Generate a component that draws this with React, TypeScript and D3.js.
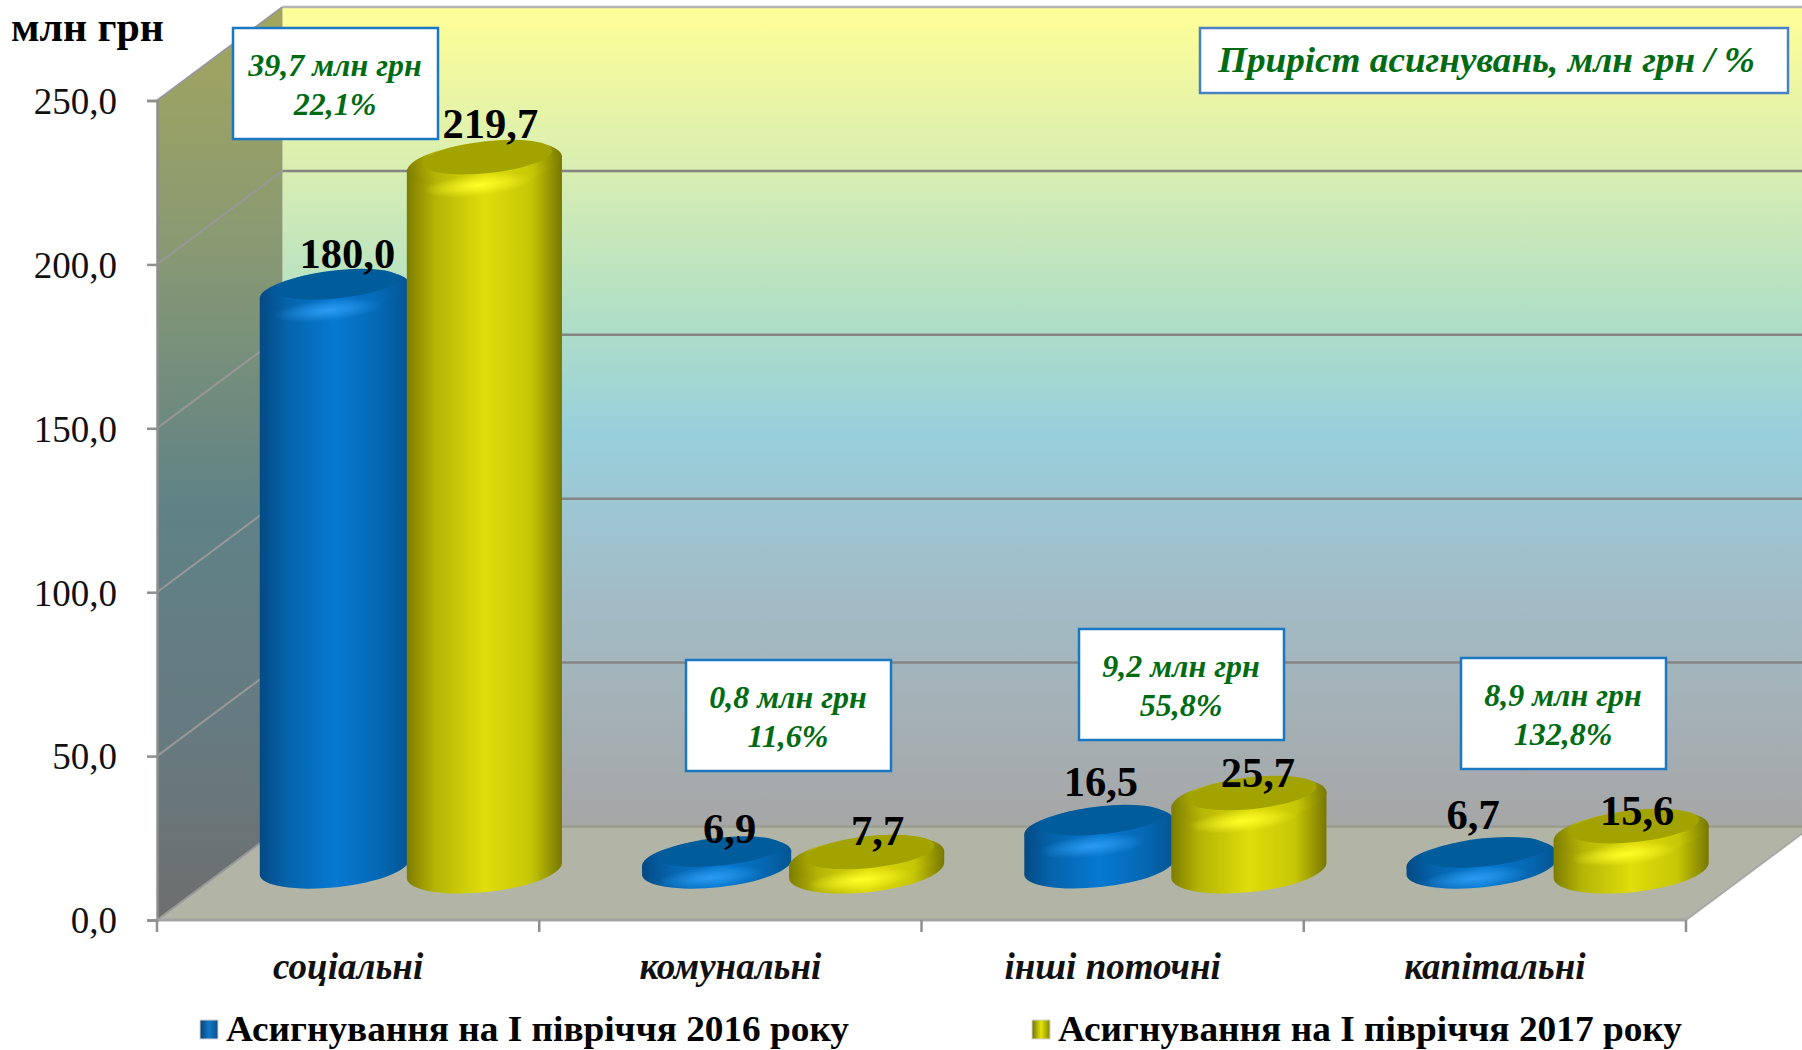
import React, { useEffect, useRef } from 'react';
import * as d3 from 'd3';

const categories = ['соціальні', 'комунальні', 'інші поточні', 'капітальні'];
const values2016 = [180.0, 6.9, 16.5, 6.7];
const values2017 = [219.7, 7.7, 25.7, 15.6];
const seriesNames = ['Асигнування на І півріччя 2016 року', 'Асигнування на І півріччя 2017 року'];
const yTicks = [0, 50, 100, 150, 200, 250];
const growthAbs = ['39,7 млн грн', '0,8 млн грн', '9,2 млн грн', '8,9 млн грн'];
const growthPct = ['22,1%', '11,6%', '55,8%', '132,8%'];

// hand placed, labels in the source are dragged around
const boxPos = [[233, 28], [686, 660], [1079, 629], [1461, 658]];
const nudge2016 = [[13, -2], [13, 6], [2, -10], [-8, -9]];
const nudge2017 = [[6, -3], [11, 9], [9, 10], [6, 15]];

const W = 1802, H = 1050;
const frontL = 157, frontR = 1686, floorY = 920, topY = 100.5;
const depthX = 125.5, depthY = 93.5;
const serif = '"Liberation Serif", "Times New Roman", serif';
const green = '#006b12';
const tilt = -6;

const fmt = (v: number) => d3.format('.1f')(v).replace('.', ',');

export default function App() {
  const svgRef = useRef<SVGSVGElement>(null);

  useEffect(() => {
    const svg = d3.select(svgRef.current);
    svg.selectAll('*').remove();

    const y = d3.scaleLinear().domain([0, 250]).range([floorY, topY]);
    const x = d3.scaleBand().domain(categories).range([frontL, frontR]);
    const inner = d3.scaleBand().domain(['a', 'b']).range([-151.5, 148.5]);

    const defs = svg.append('defs');
    const addGrad = (id: string, stops: [number, string][], vertical = false) => {
      const g = defs.append('linearGradient').attr('id', id)
        .attr('x1', 0).attr('y1', 0).attr('x2', vertical ? 0 : 1).attr('y2', vertical ? 1 : 0);
      stops.forEach(s => g.append('stop').attr('offset', s[0]).attr('stop-color', s[1]));
    };
    addGrad('wall', [[0, '#ffff96'], [0.2, '#d8eeb2'], [0.38, '#b0dfc6'], [0.52, '#98cfdc'], [0.72, '#a2bcc6'], [1, '#a6a6a6']], true);
    addGrad('side', [[0, '#a3a65c'], [0.25, '#8a9a72'], [0.55, '#5f8286'], [0.8, '#667a80'], [1, '#6e6e6e']], true);
    addGrad('blueBody', [[0, '#034a84'], [0.18, '#0563ab'], [0.5, '#0679d2'], [0.8, '#0568b4'], [1, '#045592']]);
    addGrad('yellowBody', [[0, '#7d7d00'], [0.18, '#b4b406'], [0.5, '#e0dd0a'], [0.8, '#c6c606'], [1, '#777700']]);
    addGrad('blueLeg', [[0, '#0a3f70'], [0.5, '#1478c8'], [1, '#0a4f88']]);
    addGrad('yellowLeg', [[0, '#6f6f00'], [0.5, '#e4e40c'], [1, '#858500']]);

    const addGlow = (id: string, c: string) => {
      const g = defs.append('radialGradient').attr('id', id);
      g.append('stop').attr('offset', 0).attr('stop-color', c).attr('stop-opacity', 1);
      g.append('stop').attr('offset', 1).attr('stop-color', c).attr('stop-opacity', 0);
    };
    addGlow('blueGlow', '#2c9cf2');
    addGlow('yellowGlow', '#ffff28');

    svg.append('rect').attr('width', W).attr('height', H).attr('fill', '#fff');

    // walls and floor
    const yBack = (v: number) => y(v) - depthY;
    const backL = frontL + depthX;
    svg.append('rect').attr('x', backL).attr('y', yBack(250))
      .attr('width', W - backL).attr('height', y(0) - y(250)).attr('fill', 'url(#wall)');
    svg.append('polygon').attr('fill', 'url(#side)')
      .attr('points', `${frontL},${y(250)} ${backL},${yBack(250)} ${backL},${yBack(0)} ${frontL},${y(0)}`);
    svg.append('polygon').attr('fill', '#b2b5a6')
      .attr('points', `${frontL},${y(0)} ${backL},${yBack(0)} ${frontR + depthX},${yBack(0)} ${frontR},${y(0)}`);

    // gridlines
    const grid = svg.append('g');
    yTicks.forEach(v => {
      grid.append('line').attr('x1', backL).attr('x2', W).attr('y1', yBack(v)).attr('y2', yBack(v))
        .attr('stroke', v === 0 ? '#9b9c90' : v === 250 ? '#b5b5b5' : '#858585').attr('stroke-width', 2.5);
      grid.append('line').attr('x1', frontL).attr('x2', backL).attr('y1', y(v)).attr('y2', yBack(v))
        .attr('stroke', '#989898').attr('stroke-width', 2);
    });
    grid.append('line').attr('x1', frontR).attr('x2', frontR + depthX).attr('y1', y(0)).attr('y2', yBack(0))
      .attr('stroke', '#a8a8a8').attr('stroke-width', 2);

    // y axis
    const yAxis = d3.axisLeft(y).tickValues(yTicks).tickFormat((d: any) => fmt(d)).tickSize(10).tickPadding(30);
    const yg = svg.append('g').attr('transform', `translate(${frontL},0)`).call(yAxis as any);
    yg.selectAll('path,line').attr('stroke', '#8f8f8f').attr('stroke-width', 2.5);
    yg.selectAll('text').attr('font-family', serif).attr('font-size', 37).attr('fill', '#111')
      .attr('transform', 'translate(0,1)');

    // x axis, ticks sit on band edges
    const xg = svg.append('g');
    xg.append('line').attr('x1', frontL).attr('x2', frontR).attr('y1', y(0)).attr('y2', y(0))
      .attr('stroke', '#a3a3a3').attr('stroke-width', 3);
    [...categories.map(c => x(c) as number), frontR].forEach(t => {
      xg.append('line').attr('x1', t).attr('x2', t).attr('y1', y(0)).attr('y2', y(0) + 12)
        .attr('stroke', '#8f8f8f').attr('stroke-width', 2.5);
    });
    xg.selectAll('text.cat').data(categories).enter().append('text').attr('class', 'cat')
      .attr('x', d => (x(d) as number) + x.bandwidth() / 2).attr('y', 979)
      .attr('text-anchor', 'middle').attr('font-family', serif).attr('font-size', 37)
      .attr('font-weight', 'bold').attr('font-style', 'italic').attr('fill', '#111').text(d => d);

    // cylinders
    const drawBar = (cat: string, v: number, key: 'a' | 'b', color: string, rx: number, ry: number, dark: string, baseDrop: number) => {
      const cx = (x(cat) as number) + x.bandwidth() / 2 + depthX / 2 + (inner(key) as number) + inner.bandwidth() / 2;
      // ellipses are rounder than the true projection, so the body gives back the difference
      const base = y(0) - depthY / 2 + baseDrop - 7;
      const top = base - (y(0) - y(v)) + 14;
      const dx = rx * Math.cos((tilt * Math.PI) / 180);
      const dy = rx * Math.sin((tilt * Math.PI) / 180);
      const g = svg.append('g');
      const path = d3.path();
      path.moveTo(cx - dx, top - dy);
      path.lineTo(cx - dx, base - dy);
      g.append('path')
        .attr('d', `${path.toString()} A${rx} ${ry} ${tilt} 0 0 ${cx + dx} ${base + dy} L${cx + dx} ${top + dy} Z`)
        .attr('fill', `url(#${color}Body)`);
      const ell = (ox: number, oy: number, rrx: number, rry: number, fill: string) =>
        g.append('ellipse').attr('transform', `translate(${cx + ox},${top + oy}) rotate(${tilt})`)
          .attr('rx', rrx).attr('ry', rry).attr('fill', fill);
      ell(0, 0, rx, ry, `url(#${color}Body)`);
      ell(-6, ry - 1, 54, 11, `url(#${color}Glow)`);
      ell(3, -7, rx - 13, ry - 6, dark);
    };
    categories.forEach((c, i) => {
      drawBar(c, values2016[i], 'a', 'blue', 75, 20, '#005c9a', 1);
      drawBar(c, values2017[i], 'b', 'yellow', 78, 22, '#a3a300', 4);
    });

    // data labels
    const barTop = (v: number, drop: number, ry: number) => y(0) - depthY / 2 + drop - (y(0) - y(v)) - ry - 2;
    const addLabels = (vals: number[], key: 'a' | 'b', nudge: number[][], drop: number, ry: number) => {
      svg.append('g').selectAll('text').data(vals).enter().append('text')
        .attr('x', (d, i) => (x(categories[i]) as number) + x.bandwidth() / 2 + depthX / 2 + (inner(key) as number) + inner.bandwidth() / 2 + nudge[i][0])
        .attr('y', (d, i) => barTop(d, drop, ry) + nudge[i][1])
        .attr('text-anchor', 'middle').attr('font-family', serif).attr('font-weight', 'bold')
        .attr('font-size', 42.5).attr('fill', '#000').text(d => fmt(d));
    };
    addLabels(values2016, 'a', nudge2016, 1, 12.5);
    addLabels(values2017, 'b', nudge2017, 4, 14.5);

    // growth boxes
    categories.forEach((c, i) => {
      const g = svg.append('g').attr('transform', `translate(${boxPos[i][0]},${boxPos[i][1]})`);
      g.append('rect').attr('width', 205).attr('height', 111).attr('fill', '#fff')
        .attr('stroke', '#1a78c2').attr('stroke-width', 2.5);
      [growthAbs[i], growthPct[i]].forEach((t, j) => {
        g.append('text').attr('x', 102).attr('y', 48 + j * 39).attr('text-anchor', 'middle')
          .attr('font-family', serif).attr('font-size', 32).attr('font-weight', 'bold')
          .attr('font-style', 'italic').attr('fill', green).text(t);
      });
    });
    svg.append('rect').attr('x', 1200).attr('y', 28).attr('width', 588).attr('height', 65)
      .attr('fill', '#fff').attr('stroke', '#4a80c4').attr('stroke-width', 2.5);
    svg.append('text').attr('x', 1218).attr('y', 72).attr('font-family', serif).attr('font-size', 35)
      .attr('font-weight', 'bold').attr('font-style', 'italic').attr('fill', green)
      .attr('textLength', 537).attr('lengthAdjust', 'spacingAndGlyphs').text('Приріст асигнувань, млн грн / %');

    svg.append('text').attr('x', 11).attr('y', 41).attr('font-family', serif).attr('font-size', 42)
      .attr('font-weight', 'bold').attr('fill', '#000')
      .attr('textLength', 153).attr('lengthAdjust', 'spacingAndGlyphs').text('млн грн');

    // legend
    const legX = [200, 1032];
    const legLen = [623, 624];
    const legFill = ['blueLeg', 'yellowLeg'];
    seriesNames.forEach((name, i) => {
      svg.append('rect').attr('x', legX[i]).attr('y', 1020).attr('width', 18).attr('height', 19)
        .attr('fill', `url(#${legFill[i]})`).attr('stroke', '#d5d5d5').attr('stroke-width', 1);
      svg.append('text').attr('x', legX[i] + 26).attr('y', 1041).attr('font-family', serif)
        .attr('font-size', 35).attr('font-weight', 'bold').attr('fill', '#000')
        .attr('textLength', legLen[i]).attr('lengthAdjust', 'spacingAndGlyphs').text(name);
    });
  }, []);

  return <svg ref={svgRef} width={W} height={H} viewBox={`0 0 ${W} ${H}`} style={{ position: 'absolute', left: 0, top: 0, display: 'block' }} />;
}
